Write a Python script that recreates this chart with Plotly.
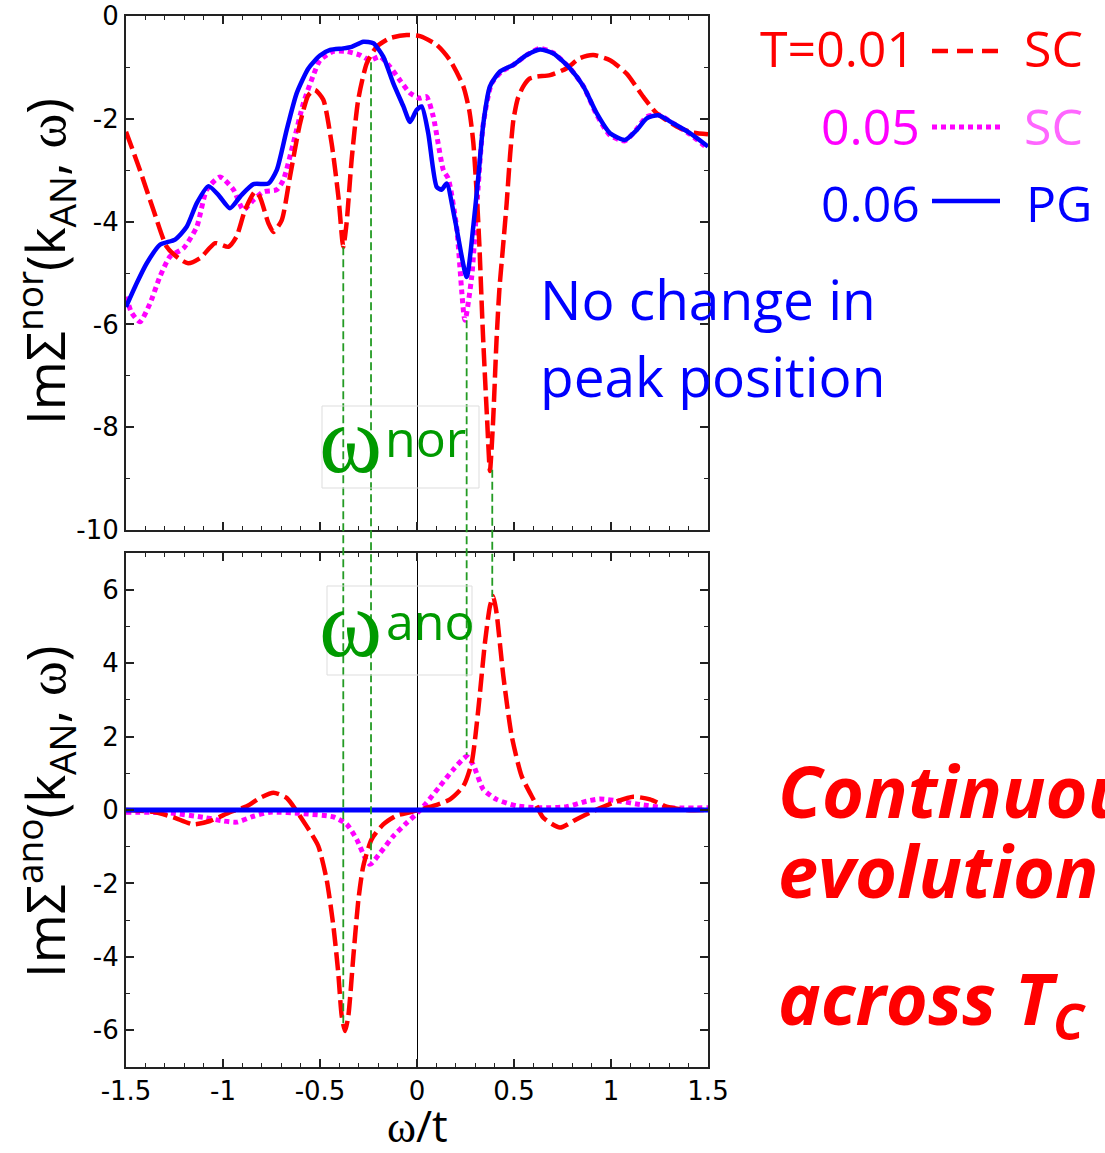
import plotly.graph_objects as go

# ---------------- data ----------------
# Top panel: Im Sigma^nor(k_AN, w)
w_red_nor = [-1.5, -1.428, -1.359, -1.29, -1.23, -1.18, -1.118, -1.04, -0.972, -0.93, -0.886, -0.835,
             -0.81, -0.766, -0.74, -0.697, -0.655, -0.603, -0.56, -0.526, -0.483, -0.44, -0.405, -0.38,
             -0.363, -0.337, -0.303, -0.259, -0.208, -0.139, -0.053, 0.015, 0.101, 0.17, 0.239, 0.27,
             0.29, 0.31, 0.322, 0.34, 0.362, 0.376, 0.392, 0.41, 0.425, 0.442, 0.462, 0.48, 0.497, 0.52,
             0.548, 0.58, 0.617, 0.686, 0.77, 0.84, 0.909, 0.995, 1.08, 1.166, 1.235, 1.338, 1.424, 1.5]
red_nor = [-2.25, -3.0, -3.77, -4.49, -4.71, -4.81, -4.71, -4.42, -4.49, -4.29, -3.77, -3.42,
           -3.52, -4.03, -4.2, -3.97, -3.13, -2.09, -1.54, -1.44, -1.63, -2.48, -3.52, -4.49,
           -4.03, -2.8, -1.63, -0.92, -0.6, -0.43, -0.37, -0.39, -0.56, -0.86, -1.37, -1.85,
           -2.45, -3.6, -4.5, -6.2, -7.9, -8.85, -7.9, -6.3, -5.3, -4.55, -3.65, -2.7, -2.02, -1.6,
           -1.37, -1.22, -1.18, -1.15, -1.02, -0.82, -0.76, -0.86, -1.12, -1.57, -1.89, -2.15, -2.27, -2.3]

w_mag_nor = [-1.5, -1.47, -1.428, -1.376, -1.325, -1.273, -1.204, -1.135, -1.084, -1.015, -0.946, -0.895,
             -0.843, -0.792, -0.723, -0.689, -0.638, -0.586, -0.534, -0.5, -0.432, -0.363, -0.294, -0.242,
             -0.19, -0.139, -0.088, -0.036, 0.015, 0.049, 0.084, 0.136, 0.161, 0.204, 0.247, 0.282, 0.307,
             0.342, 0.385, 0.436, 0.497, 0.565, 0.634, 0.703, 0.789, 0.858, 0.926, 0.995, 1.072, 1.132,
             1.184, 1.244, 1.321, 1.407, 1.5]
mag_nor = [-5.46, -5.78, -5.95, -5.59, -5.07, -4.68, -4.52, -4.1, -3.38, -3.13, -3.38, -3.77,
           -3.58, -3.42, -3.38, -3.19, -2.48, -1.7, -1.15, -0.86, -0.69, -0.69, -0.76, -0.86,
           -0.79, -0.99, -1.25, -1.5, -1.6, -1.57, -1.96, -3.0, -3.16, -4.1, -5.92, -5.07, -3.77,
           -2.09, -1.31, -1.08, -0.95, -0.76, -0.63, -0.72, -1.02, -1.37, -1.92, -2.32, -2.43, -2.2,
           -1.96, -1.92, -2.09, -2.3, -2.58]

w_blue_nor = [-1.5, -1.445, -1.393, -1.325, -1.247, -1.187, -1.135, -1.075, -1.024, -0.964, -0.904, -0.843,
              -0.766, -0.723, -0.672, -0.62, -0.56, -0.5, -0.448, -0.38, -0.337, -0.277, -0.225, -0.174,
              -0.122, -0.07, -0.036, -0.002, 0.024, 0.058, 0.101, 0.127, 0.153, 0.196, 0.256, 0.29, 0.316,
              0.342, 0.376, 0.428, 0.497, 0.565, 0.634, 0.703, 0.789, 0.858, 0.926, 0.995, 1.072, 1.132,
              1.184, 1.244, 1.321, 1.407, 1.5]
blue_nor = [-5.66, -5.2, -4.81, -4.45, -4.35, -4.1, -3.64, -3.31, -3.48, -3.74, -3.48, -3.27,
            -3.26, -3.0, -2.22, -1.5, -1.02, -0.77, -0.66, -0.63, -0.6, -0.5, -0.53, -0.79,
            -1.31, -1.76, -2.06, -1.83, -1.76, -2.28, -3.32, -3.38, -3.26, -3.97, -5.08, -4.1, -3.13,
            -2.09, -1.37, -1.08, -0.95, -0.76, -0.65, -0.73, -1.02, -1.37, -1.89, -2.28, -2.41, -2.22,
            -1.99, -1.93, -2.09, -2.28, -2.54]

# Bottom panel: Im Sigma^ano(k_AN, w)
w_red_ano = [-1.5, -1.359, -1.256, -1.153, -1.067, -0.964, -0.878, -0.809, -0.74, -0.672, -0.62, -0.569,
             -0.509, -0.466, -0.431, -0.406, -0.388, -0.371, -0.354, -0.328, -0.302, -0.277, -0.234,
             -0.174, -0.105, -0.036, 0.007, 0.084, 0.17, 0.239, 0.282, 0.316, 0.35, 0.376, 0.393, 0.41,
             0.445, 0.488, 0.539, 0.6, 0.651, 0.737, 0.823, 0.909, 1.012, 1.115, 1.201, 1.287, 1.39, 1.5]
red_ano = [0.0, -0.05, -0.2, -0.39, -0.3, -0.06, 0.1, 0.33, 0.47, 0.33, -0.03, -0.44,
           -0.98, -1.89, -3.16, -4.43, -5.61, -6.02, -5.61, -3.98, -2.44, -1.53, -0.8,
           -0.39, -0.15, -0.06, 0.0, 0.11, 0.29, 0.65, 1.29, 2.74, 4.55, 5.55, 5.82, 5.37,
           3.65, 2.02, 0.93, 0.29, -0.21, -0.48, -0.25, -0.03, 0.2, 0.36, 0.29, 0.09, 0.0, 0.0]

w_mag_ano = [-1.5, -1.273, -1.101, -0.998, -0.929, -0.843, -0.757, -0.586, -0.431, -0.362, -0.311, -0.268,
             -0.242, -0.19, -0.122, -0.053, -0.002, 0.05, 0.118, 0.187, 0.256, 0.29, 0.342, 0.41, 0.514,
             0.634, 0.771, 0.874, 0.943, 1.046, 1.149, 1.287, 1.5]
mag_ano = [-0.06, -0.08, -0.2, -0.3, -0.33, -0.17, -0.06, -0.1, -0.19, -0.39, -0.8, -1.3,
           -1.48, -1.17, -0.71, -0.35, -0.1, 0.2, 0.65, 1.1, 1.46, 1.23, 0.56, 0.29, 0.11,
           0.06, 0.09, 0.24, 0.3, 0.24, 0.15, 0.06, 0.06]

w_blue_ano = [-1.5, -0.5, 0.0, 0.5, 1.5]
blue_ano = [0.0, 0.0, 0.0, 0.0, 0.0]

# Green guide lines: peak frequencies, and the values where they start / end
w_peaks = [-0.38, -0.237, 0.256, 0.388]
peak_nor_val = [-4.5, -0.9, -5.92, -8.83]
peak_ano_val = [-5.9, -1.35, 1.5, 5.8]

# ticks
x_tickvals = [-1.5, -1, -0.5, 0, 0.5, 1, 1.5]
x_ticktext = ["-1.5", "-1", "-0.5", "0", "0.5", "1", "1.5"]
ynor_tickvals = [0, -2, -4, -6, -8, -10]
ynor_ticktext = ["0", "-2", "-4", "-6", "-8", "-10"]
yano_tickvals = [6, 4, 2, 0, -2, -4, -6]
yano_ticktext = ["6", "4", "2", "0", "-2", "-4", "-6"]

# ---------------- layout helpers ----------------
W, H = 1105, 1153
PL, PR, PT, PB = 126, 708, 16, 1067


def px(x):
    return (x - PL) / (PR - PL)


def py(y):
    return (PB - y) / (PB - PT)


TOP_DOM = [py(530), 1.0]
BOT_DOM = [0.0, py(553)]
TOP_RNG = [-10, 0]
BOT_RNG = [-7, 7]


def val_to_paper(v, rng, dom):
    return dom[0] + (v - rng[0]) / (rng[1] - rng[0]) * (dom[1] - dom[0])


RED, MAG, BLUE = "#FF0000", "#FF00FF", "#0000FF"
GREEN_TXT, GREEN_LN = "#009A00", "#249B24"
SANS = "Open Sans"
OMEGA = "<span style='font-family:Liberation Serif'>ω</span>"

fig = go.Figure()


def add_line(x, y, color, width, dash, xa, ya):
    fig.add_trace(go.Scatter(x=x, y=y, mode="lines", xaxis=xa, yaxis=ya, showlegend=False,
                             line=dict(color=color, width=width, dash=dash, shape="spline", smoothing=0.6)))


RED_DASH = "18px,6px"
MAG_DOT = "5px,4px"

add_line(w_mag_nor, mag_nor, MAG, 5, MAG_DOT, "x", "y")
add_line(w_red_nor, red_nor, RED, 4.5, RED_DASH, "x", "y")
add_line(w_blue_nor, blue_nor, BLUE, 4.5, "solid", "x", "y")
add_line(w_mag_ano, mag_ano, MAG, 5, MAG_DOT, "x2", "y2")
add_line(w_red_ano, red_ano, RED, 4.5, RED_DASH, "x2", "y2")
add_line(w_blue_ano, blue_ano, BLUE, 5, "solid", "x2", "y2")

axcol = "#222222"
common = dict(showline=True, linecolor=axcol, linewidth=2, mirror="allticks", ticks="inside",
              ticklen=8, tickwidth=1.5, tickcolor=axcol, showgrid=False, automargin=False,
              tickfont=dict(family="DejaVu Sans", size=26, color="black"))

xcommon = dict(common, range=[-1.5, 1.5], tickmode="array", tickvals=x_tickvals, ticktext=x_ticktext,
               zeroline=True, zerolinecolor="black", zerolinewidth=1.3,
               minor=dict(ticks="inside", ticklen=4, tickwidth=1.2, tickcolor=axcol,
                          tickmode="linear", tick0=0, dtick=0.1, showgrid=False))

fig.update_layout(
    width=W, height=H, margin=dict(l=PL, r=W - PR, t=PT, b=H - PB, autoexpand=False),
    paper_bgcolor="white", plot_bgcolor="rgba(0,0,0,0)",
    xaxis=dict(xcommon, anchor="y", domain=[0, 1], showticklabels=False),
    yaxis=dict(common, anchor="x", domain=TOP_DOM, range=TOP_RNG, tickmode="array",
               tickvals=ynor_tickvals, ticktext=ynor_ticktext, zeroline=False,
               minor=dict(ticks="inside", ticklen=4, tickwidth=1.2, tickcolor=axcol,
                          tickmode="linear", tick0=0, dtick=1, showgrid=False)),
    xaxis2=dict(xcommon, anchor="y2", domain=[0, 1]),
    yaxis2=dict(common, anchor="x2", domain=BOT_DOM, range=BOT_RNG, tickmode="array",
                tickvals=yano_tickvals, ticktext=yano_ticktext, zeroline=False,
                minor=dict(ticks="inside", ticklen=4, tickwidth=1.2, tickcolor=axcol,
                           tickmode="linear", tick0=0, dtick=1, showgrid=False)),
)

shapes = []
# green guide lines crossing both panels
for wp, vn, va in zip(w_peaks, peak_nor_val, peak_ano_val):
    shapes.append(dict(type="line", xref="x", yref="paper", x0=wp, x1=wp,
                       y0=val_to_paper(vn, TOP_RNG, TOP_DOM), y1=val_to_paper(va, BOT_RNG, BOT_DOM),
                       line=dict(color=GREEN_LN, width=1.8, dash="8px,4px"), layer="above"))
# label boxes
for (x0, y0, x1, y1) in [(322, 406, 479, 488), (327, 586, 472, 675)]:
    shapes.append(dict(type="rect", xref="paper", yref="paper", x0=px(x0), x1=px(x1), y0=py(y1), y1=py(y0),
                       line=dict(color="#DDDDDD", width=1), fillcolor="rgba(0,0,0,0)", layer="above"))
# legend line samples
for (yy, col, dash, wd) in [(51, RED, "16px,9px", 4.5), (127, MAG, "5px,4px", 5), (201, BLUE, "solid", 4.5)]:
    shapes.append(dict(type="line", xref="paper", yref="paper", x0=px(932), x1=px(1000), y0=py(yy), y1=py(yy),
                       line=dict(color=col, width=wd, dash=dash)))
fig.update_layout(shapes=shapes)

ann = []


def text(x, y, s, size, color, xanchor="center", family=SANS, angle=0):
    ann.append(dict(x=px(x), y=py(y), xref="paper", yref="paper", text=s, showarrow=False,
                    xanchor=xanchor, yanchor="middle", textangle=angle,
                    font=dict(family=family, size=size, color=color)))


# axis titles
text(45, 262, "ImΣ<sup>nor</sup>(k<sub>AN</sub>, " + OMEGA + ")", 53, "black", angle=-90)
text(45, 812, "ImΣ<sup>ano</sup>(k<sub>AN</sub>, " + OMEGA + ")", 53, "black", angle=-90)
text(417, 1125, OMEGA + "/t", 44, "black")

# legend
text(917, 48, "T=0.01", 50, RED, xanchor="right")
text(1022, 48, "SC", 50, RED, xanchor="left")
text(922, 126, "0.05", 50, MAG, xanchor="right")
text(1022, 126, "SC", 50, "#FF66FF", xanchor="left")
text(922, 203, "0.06", 50, BLUE, xanchor="right")
text(1024, 203, "PG", 50, BLUE, xanchor="left")

# notes
text(538, 298, "No change in", 55, BLUE, xanchor="left")
text(538, 375, "peak position", 55, BLUE, xanchor="left")

text(776, 790, "<b><i>Continuous</i></b>", 72, RED, xanchor="left")
text(776, 870, "<b><i>evolution</i></b>", 72, RED, xanchor="left")
text(776, 1001, "<b><i>across T<sub>C</sub></i></b>", 72, RED, xanchor="left")

# omega labels
text(350, 439, "ω", 96, GREEN_TXT, family="Liberation Serif")
text(425, 438, "nor", 50, GREEN_TXT)
text(350, 623, "ω", 96, GREEN_TXT, family="Liberation Serif")
text(430, 621, "ano", 50, GREEN_TXT)

fig.update_layout(annotations=ann)

fig.write_html("out.html")
